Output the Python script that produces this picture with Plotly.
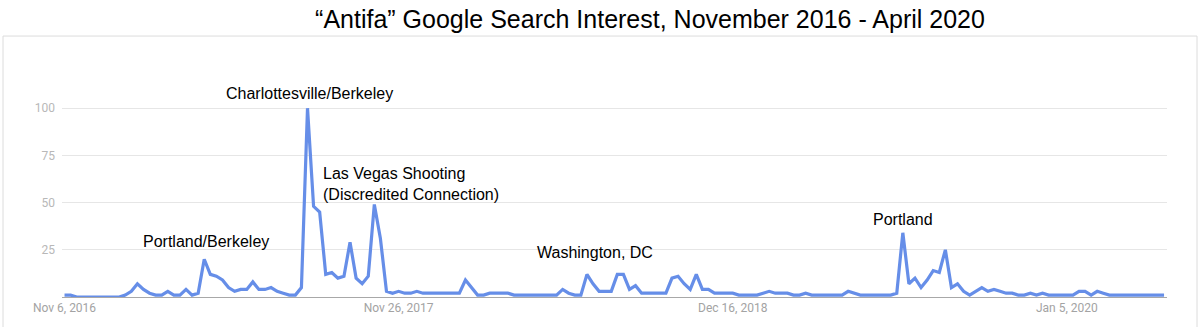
import pandas as pd
import plotly.graph_objects as go

# ---------------- data ----------------
start_week = "2016-11-06"
interest = [
    1, 1, 0, 0, 0, 0, 0, 0, 0, 0,
    1, 3, 7, 4, 2, 1, 1, 3, 1, 1,
    4, 1, 2, 20, 12, 11, 9, 5, 3, 4,
    4, 8, 4, 4, 5, 3, 2, 1, 1, 5,
    100, 48, 45, 12, 13, 10, 11, 29, 10, 7,
    11, 49, 31, 3, 2, 3, 2, 2, 3, 2,
    2, 2, 2, 2, 2, 2, 9, 5, 1, 1,
    2, 2, 2, 2, 1, 1, 1, 1, 1, 1,
    1, 1, 4, 2, 1, 1, 12, 7, 3, 3,
    3, 12, 12, 4, 6, 2, 2, 2, 2, 2,
    10, 11, 7, 4, 12, 4, 4, 2, 2, 2,
    2, 1, 1, 1, 1, 2, 3, 2, 2, 2,
    1, 1, 2, 1, 1, 1, 1, 1, 1, 3,
    2, 1, 1, 1, 1, 1, 1, 2, 34, 7,
    10, 5, 9, 14, 13, 25, 5, 7, 3, 1,
    3, 5, 3, 4, 3, 2, 2, 1, 1, 2,
    1, 2, 1, 1, 1, 1, 1, 3, 3, 1,
    3, 2, 1, 1, 1, 1, 1, 1, 1, 1,
    1, 1,
]
weeks = pd.date_range(start_week, periods=len(interest), freq="7D")

x_tick_dates = ["2016-11-06", "2017-11-26", "2018-12-16", "2020-01-05"]
x_tick_labels = ["Nov 6, 2016", "Nov 26, 2017", "Dec 16, 2018", "Jan 5, 2020"]
y_ticks = [25, 50, 75, 100]

title_text = "\u201cAntifa\u201d Google Search Interest, November 2016 - April 2020"
event_labels = [
    "Charlottesville/Berkeley",
    "Portland/Berkeley",
    "Las Vegas Shooting<br>(Discredited Connection)",
    "Washington, DC",
    "Portland",
]

# ---------------- geometry ----------------
W, H = 1200, 327
PL, PR, PT, PB = 62, 1167, 40, 300          # plot area in pixels
PX_PER_UNIT = 1.91
y_max = (PB - PT) / PX_PER_UNIT
start = pd.Timestamp(start_week)
x_range = [start - pd.Timedelta(days=2.9), start + pd.Timedelta(days=1270.4)]


def px_x(px):
    return (px - PL) / (PR - PL)


def px_y(py):
    return (PB - py) / (PB - PT)


fig = go.Figure()
fig.add_trace(go.Scatter(
    x=weeks, y=interest, mode="lines",
    line=dict(color="rgb(102,142,232)", width=3.2),
    hoverinfo="skip", showlegend=False,
))

# event annotations (pixel positions -> paper coords)
ann_pos = [
    (309, 94, "center"),
    (206, 244, "center"),
    (321, 186, "left"),
    (594.5, 254.5, "center"),
    (903, 221.5, "center"),
]
annotations = []
for text, (ax, ay, anchor) in zip(event_labels, ann_pos):
    annotations.append(dict(
        text=text, xref="paper", yref="paper", x=px_x(ax), y=px_y(ay),
        xanchor=anchor, yanchor="middle", align="left", showarrow=False,
        font=dict(family="Liberation Sans, Arial", size=16, color="#000000"),
    ))

fig.update_layout(
    width=W, height=H,
    margin=dict(l=PL, r=W - PR, t=PT, b=H - PB, pad=0),
    paper_bgcolor="white", plot_bgcolor="white",
    title=dict(
        text=title_text, x=650 / W, xanchor="center", xref="container",
        y=1 - 19 / H, yanchor="middle", yref="container",
        font=dict(family="Liberation Sans, Arial", size=25, color="#000000"),
    ),
    xaxis=dict(
        type="date", range=x_range, showgrid=False, zeroline=False,
        showline=True, linecolor="#a8a8a8", linewidth=1,
        tickmode="array", tickvals=x_tick_dates, ticktext=x_tick_labels,
        ticks="", tickfont=dict(family="Roboto", size=12, color="#a3a3a3"),
    ),
    yaxis=dict(
        range=[0, y_max], showgrid=True, gridcolor="#e6e6e6", gridwidth=1,
        zeroline=False, showline=False, tickmode="array", tickvals=y_ticks,
        ticks="", ticklabelstandoff=6,
        tickfont=dict(family="Roboto", size=12, color="#b8b8b8"),
    ),
    annotations=annotations,
    shapes=[dict(
        type="rect", xref="paper", yref="paper", layer="below",
        x0=px_x(3), x1=px_x(1197), y0=px_y(345), y1=px_y(36),
        line=dict(color="#dcdcdc", width=1), fillcolor="rgba(0,0,0,0)",
    )],
)

fig.write_html("out.html")
